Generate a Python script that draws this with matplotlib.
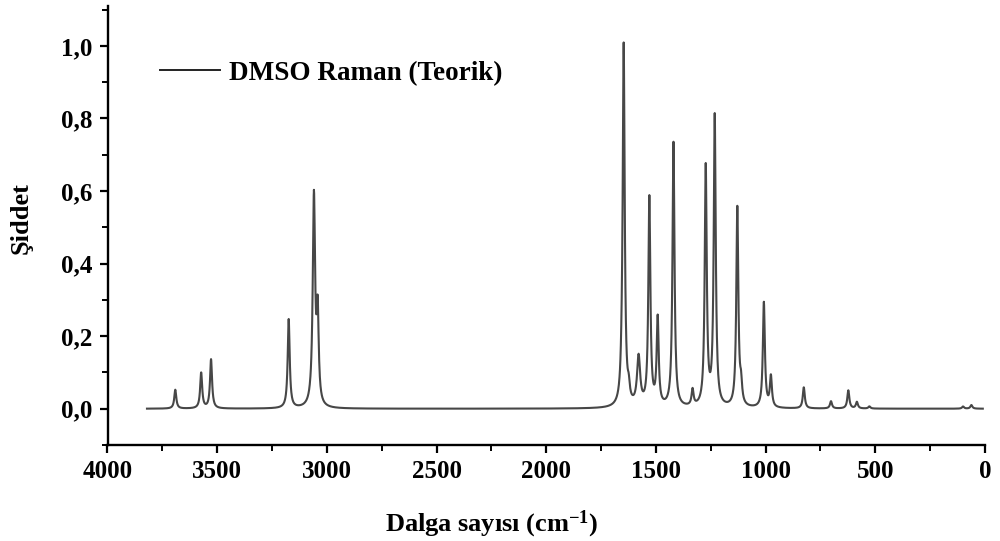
import numpy as np
import matplotlib
matplotlib.use("Agg")
import matplotlib.pyplot as plt
from matplotlib.ticker import MultipleLocator, FuncFormatter

# Calculated Raman bands (cm-1), relative heights and FWHM (cm-1)
peak_positions = [3691, 3573, 3528, 3174, 3059, 3042,
                  1656, 1647, 1624, 1579, 1530, 1492, 1420, 1333,
                  1273, 1232, 1129, 1112, 1008, 976,
                  826, 702, 623, 584, 527, 100, 62]
peak_heights = [0.052, 0.098, 0.135, 0.245, 0.58, 0.24,
                0.03, 0.995, 0.035, 0.135, 0.575, 0.24, 0.73, 0.045,
                0.66, 0.80, 0.55, 0.05, 0.29, 0.085,
                0.058, 0.02, 0.05, 0.018, 0.006, 0.006, 0.01]
peak_fwhm = [11, 11, 11, 11, 13, 11,
             11, 11, 11, 17, 11, 11, 11, 11,
             11, 11, 11, 11, 11, 11,
             11, 11, 11, 11, 11, 11, 11]
wavenumber_range = [3820, 10]

x_ticks = [4000, 3500, 3000, 2500, 2000, 1500, 1000, 500, 0]
y_ticks = [0.0, 0.2, 0.4, 0.6, 0.8, 1.0]

legend_label = "DMSO Raman (Teorik)"
x_label = "Dalga sayısı (cm$^{-1}$)"
y_label = "Şiddet"

plt.rcParams['font.family'] = ['Liberation Serif', 'DejaVu Serif']
plt.rcParams['font.weight'] = 'bold'
plt.rcParams['mathtext.fontset'] = 'custom'
plt.rcParams['mathtext.rm'] = 'Liberation Serif:bold'
plt.rcParams['mathtext.default'] = 'rm'

wn = np.arange(wavenumber_range[0], wavenumber_range[1] - 0.5, -1.0)
spec = np.zeros_like(wn)
for p, h, w in zip(peak_positions, peak_heights, peak_fwhm):
    g = w / 2.0
    spec += h * g**2 / ((wn - p)**2 + g**2)

fig = plt.figure(figsize=(10, 5.41), dpi=100)
ax = fig.add_axes([0.1075, 0.1774, 0.8775, 0.8115])
ax.plot(wn, spec, color='#474747', lw=1.5, label=legend_label)

ax.set_xlim(4000, 0)
ax.set_ylim(-0.1, 1.11)
ax.set_xticks(x_ticks)
ax.set_yticks(y_ticks)
ax.xaxis.set_minor_locator(MultipleLocator(250))
ax.yaxis.set_minor_locator(MultipleLocator(0.1))
ax.yaxis.set_major_formatter(FuncFormatter(lambda v, p: f"{v:.1f}".replace('.', ',')))
ax.xaxis.set_major_formatter(FuncFormatter(lambda v, p: f"{int(round(v))}"))

for s in ['top', 'right']:
    ax.spines[s].set_visible(False)
for s in ['left', 'bottom']:
    ax.spines[s].set_linewidth(1.7)

ax.tick_params(which='major', direction='out', length=6, width=1.6, labelsize=18, pad=5)
ax.tick_params(which='minor', direction='out', length=4, width=1.4)

ax.set_xlabel(x_label, fontsize=19, fontweight='bold')
ax.xaxis.set_label_coords(0.438, -0.145)
ax.set_ylabel(y_label, fontsize=19, fontweight='bold')
ax.yaxis.set_label_coords(-0.085, 0.517)

leg = ax.legend(loc='center left', bbox_to_anchor=(0.06, 0.847), frameon=False,
                fontsize=19.5, handlelength=2.2, handletextpad=0.35,
                borderaxespad=0, borderpad=0)
for t in leg.get_texts():
    t.set_fontweight('bold')
for l in leg.get_lines():
    l.set_linewidth(1.4)
    l.set_color('#222222')

fig.savefig('out.png', dpi=100)
